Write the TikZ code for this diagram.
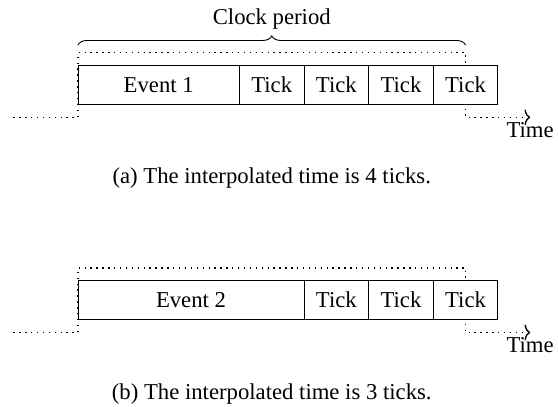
\documentclass[tikz,border=0pt]{standalone}
\usepackage{fontspec}
\setmainfont{Liberation Serif}
\usetikzlibrary{decorations.pathreplacing,arrows.meta}
\tikzset{
  cell/.style={draw, fill=white, minimum height=0.6cm, inner sep=0pt, outer sep=0pt, anchor=north west},
  eventbox/.style={cell},
  tickbox/.style={cell, minimum width=1cm},
  timeline/.style={dotted, line width=0.6pt, -{To[length=2.5pt,width=7pt]}},
  bracestyle/.style={decorate, decoration={brace, amplitude=4pt}},
  caption/.style={anchor=base, inner sep=0pt},
  timelabel/.style={below, inner sep=2pt}
}
\begin{document}
\begin{tikzpicture}
\useasboundingbox (-1.207,1.017) rectangle (7.431,-5.283);
% ---------- (a) ----------
\coordinate (a0) at (-1,-0.8);
\coordinate (a1) at (0,-0.8);
\coordinate (a2) at (0,0.2);
\coordinate (a3) at (6,0.2);
\coordinate (a4) at (6,-0.8);
\coordinate (a5) at (7,-0.8);
\draw[timeline] (a0) -- (a1) -- (a2) -- (a3) -- (a4) -- (a5) node[timelabel] (ta) {Time};
\node[eventbox, minimum width=2.5cm] (e1) at (0,0) {Event 1};
\node[tickbox] (t1) at (e1.north east) {Tick};
\node[tickbox] (t2) at (t1.north east) {Tick};
\node[tickbox] (t3) at (t2.north east) {Tick};
\node[tickbox] (t4) at (t3.north east) {Tick};
\coordinate (b0) at (0,0.32);
\coordinate (b1) at (6,0.32);
\draw[bracestyle] (b0) -- (b1);
\node[caption] (cp) at (3,0.63) {Clock period};
\node[caption] (capa) at (3,-1.83) {(a) The interpolated time is 4 ticks.};
% ---------- (b) ----------
\coordinate (c0) at (-1,-4.13);
\coordinate (c1) at (0,-4.13);
\coordinate (c2) at (0,-3.13);
\coordinate (c3) at (6,-3.13);
\coordinate (c4) at (6,-4.13);
\coordinate (c5) at (7,-4.13);
\draw[timeline] (c0) -- (c1) -- (c2) -- (c3) -- (c4) -- (c5) node[timelabel] (tb) {Time};
\node[eventbox, minimum width=3.5cm] (e2) at (0,-3.33) {Event 2};
\node[tickbox] (u1) at (e2.north east) {Tick};
\node[tickbox] (u2) at (u1.north east) {Tick};
\node[tickbox] (u3) at (u2.north east) {Tick};
\node[caption] (capb) at (3,-5.175) {(b) The interpolated time is 3 ticks.};
\end{tikzpicture}
\end{document}
